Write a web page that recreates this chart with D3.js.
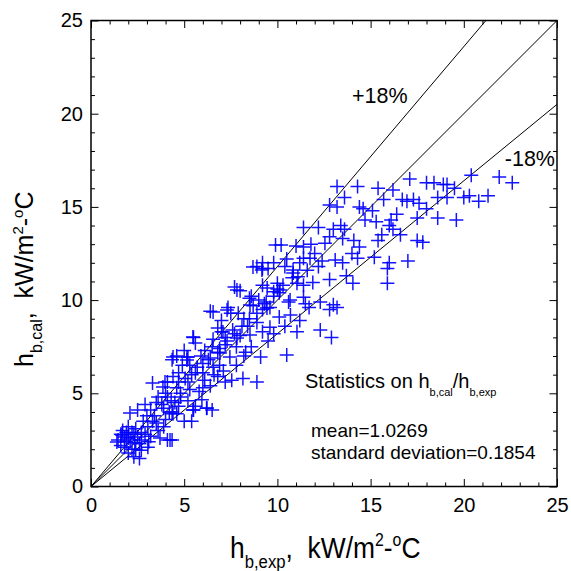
<!DOCTYPE html>
<html>
<head>
<meta charset="utf-8">
<script src="https://cdn.jsdelivr.net/npm/d3@7"></script>
<style>
  html, body { margin: 0; padding: 0; background: #fff; }
  svg { display: block; font-family: "Liberation Sans", Arial, sans-serif; }
</style>
</head>
<body>
<svg id="chart" width="571" height="571"></svg>
<script>
// ---- data ----
const hExp = [
  1.45,1.6,1.8,1.8,2.0,2.2,2.35,2.5,2.7,3.05,3.05,3.6,4.1,4.35,1.7,2.0,2.4,2.9,2.6,1.9,2.2,2.8,2.5,3.2,3.8,4.5,3.4,2.9,3.3,4.0,4.6,5.0,5.4,3.7,2.3,2.6,1.6,2.0,3.9,4.2,
  5.2,5.6,6.5,5.95,6.2,5.5,4.4,4.8,3.3,4.1,5.05,6.1,7.2,7.55,8.15,8.9,4.6,5.3,5.8,4.0,3.6,4.35,5.2,6.3,6.9,4.9,5.7,6.55,5.15,6.1,6.8,7.45,8.3,9.1,10.5,5.6,7.2,5.5,6.55,7.2,7.8,8.6,4.7,5.4,6.0,6.6,7.1,7.8,4.4,6.4,5.0,4.6,
  6.8,7.6,8.4,8.9,9.8,11.05,12.3,9.2,9.6,6.4,7.35,7.5,8.7,9.2,9.6,10.1,10.7,11.5,12.8,13.2,7.7,8.0,10.0,10.1,11.05,11.4,11.4,13.0,8.5,9.0,9.3,8.2,7.0,9.45,9.8,10.0,11.9,12.8,14.05,15.9,10.6,12.3,11.2,8.0,12.9,
  8.9,9.2,9.8,11.2,9.2,9.5,10.85,11.1,12.2,13.1,13.5,14.3,11.4,11.75,11.4,12.55,14.4,9.9,10.2,11.0,11.4,12.2,13.4,13.6,14.7,15.3,16.1,12.8,13.5,14.1,15.4,15.6,16.0,16.2,17.5,17.8,16.0,17.0,15.9,14.0,12.0,10.5,
  13.2,14.3,15.4,16.2,17.1,18.0,18.4,18.9,19.1,20.4,21.9,22.6,20.3,20.8,21.3,15.7,16.7,16.95,17.3,17.6,18.6,19.1,20.0,12.8,13.2,14.4,17.5,18.6,19.6,13.6,15.1,16.4,
  3.97,6.55,7.3,8.53,9.44,5.47,7.08,7.83,8.53,4.4,5.15,6.92,8.69,9.17,10.84,7.83,10.14,10.68,3.86,6.22,5.47,4.35,2.09,4.24,1.66,1.39,
  2.1,2.3,2.7,2.4,1.9,2.7,3.2,3.5,3.0,3.9,4.3,4.8,5.2,5.6,6.0,6.4,6.9,7.3,7.7,8.1,8.5,8.9,9.4,9.8,10.3,10.8,11.6,12.4,3.5,4.1,4.7,5.3,5.9,6.5,7.0,7.9,8.6,9.2,10.4,11.8,13.0,14.6,3.1,4.7,6.0,6.8,8.2,9.5,10.4,11.7,13.7,15.2,16.6,18.0,19.5
];
const hCal = [
  2.5,2.8,2.65,2.1,1.8,2.9,2.35,2.65,1.95,2.1,3.2,3.0,2.5,2.5,3.0,3.2,3.1,2.8,2.3,2.4,2.0,3.5,4.1,4.1,4.4,4.5,3.8,4.4,3.5,3.6,3.9,3.5,3.5,2.6,1.6,1.5,2.2,2.6,3.2,4.0,
  4.6,4.3,4.1,4.65,4.2,4.1,3.9,4.8,5.55,5.6,5.8,5.7,5.6,5.7,5.8,5.6,5.3,5.2,5.1,5.0,4.8,6.8,6.95,6.8,6.5,6.5,6.4,6.4,6.95,7.3,7.2,6.95,7.2,6.95,7.05,7.7,7.6,8.0,7.9,8.0,7.5,7.5,6.1,6.0,6.1,6.0,6.2,6.5,5.9,5.4,7.3,7.0,
  8.5,8.4,8.6,8.8,8.2,8.3,8.4,8.3,8.55,9.4,9.6,9.3,9.7,9.5,9.6,9.1,9.2,9.8,9.5,9.6,10.7,10.5,10.6,10.4,10.9,10.8,10.15,9.75,10.1,10.0,9.8,9.0,8.9,10.65,10.45,10.9,10.95,11.1,10.9,10.9,9.9,9.9,8.9,8.1,8.0,
  11.8,11.7,12.0,12.0,12.0,11.7,11.45,11.25,11.8,12.15,12.0,12.25,12.25,12.25,12.85,13.05,12.85,12.95,12.95,12.9,13.9,13.9,14.0,13.8,14.3,14.2,14.3,13.4,13.3,13.2,13.2,13.5,14.0,13.8,13.2,13.1,12.0,12.1,11.7,12.5,12.5,12.2,
  16.1,16.1,16.0,15.9,16.5,16.3,16.3,16.2,16.2,16.7,16.6,16.3,15.6,15.3,15.6,15.4,15.4,15.3,15.4,15.2,15.5,15.5,15.5,15.1,15.0,15.0,14.4,14.4,14.3,15.5,14.8,14.6,
  5.6,9.36,9.47,9.74,9.58,8.02,8.29,7.97,8.13,6.95,6.79,7.16,11.78,11.62,11.62,10.54,10.54,10.0,5.34,4.21,4.1,4.0,3.94,2.49,2.76,2.39,
  2.5,2.8,2.9,2.0,2.9,2.5,2.7,3.4,3.8,4.2,4.6,5.0,5.6,6.1,6.6,6.9,7.4,7.8,8.2,8.6,9.0,9.3,9.9,10.2,10.8,11.2,11.6,12.1,4.5,4.8,5.6,6.5,7.0,7.5,8.3,9.3,10.2,10.8,11.8,13.0,13.8,14.9,2.4,4.3,5.3,5.9,7.0,7.8,8.6,9.6,11.3,12.3,13.5,14.9,16.0
];
const majorTicks = [0, 5, 10, 15, 20, 25];
const minorTicks = [1,2,3,4,6,7,8,9,11,12,13,14,16,17,18,19,21,22,23,24];
const lineFactors = [1.0, 1.18, 0.82];
const lineLabels = [{text: "+18%", x: 14.0, y: 20.57}, {text: "-18%", x: 22.2, y: 17.18}];
const statsTitle = ["Statistics on h", "b,cal", "/h", "b,exp"];
const statsLines = ["mean=1.0269", "standard deviation=0.1854"];

// ---- layout ----
const svg = d3.select("#chart");
const L = 91, R = 557, T = 20.5, B = 486.5;
const x = d3.scaleLinear().domain([0, 25]).range([L, R]);
const y = d3.scaleLinear().domain([0, 25]).range([B, T]);

svg.append("defs").append("clipPath").attr("id", "plotclip")
  .append("rect").attr("x", L).attr("y", T).attr("width", R - L).attr("height", B - T);

// reference lines
const plot = svg.append("g").attr("clip-path", "url(#plotclip)");
plot.selectAll("line.ref").data(lineFactors).join("line")
  .attr("class", "ref")
  .attr("x1", x(0)).attr("y1", y(0))
  .attr("x2", f => x(Math.min(25, 25 / f)))
  .attr("y2", f => y(Math.min(25, 25 / f) * f))
  .attr("stroke", "#000").attr("stroke-width", 1);

// markers
const pts = hExp.map((v, i) => ({x: v, y: hCal[i]}));
plot.selectAll("path.pt").data(pts).join("path")
  .attr("class", "pt")
  .attr("transform", d => `translate(${x(d.x)},${y(d.y)})`)
  .attr("d", "M-7,0H7M0,-7V7")
  .attr("stroke", "#0000ff").attr("stroke-opacity", 0.92)
  .attr("stroke-width", 1.5).attr("fill", "none");

// axes
function styleAxis(g) {
  g.select(".domain").remove();
  g.selectAll(".tick line").attr("stroke", "#000").attr("stroke-width", 1);
  g.selectAll(".tick text").attr("fill", "#000").attr("font-size", 20)
    .attr("font-family", "'Liberation Sans', Arial, sans-serif");
}
svg.append("g").attr("transform", `translate(0,${B})`)
  .call(d3.axisBottom(x).tickValues(majorTicks).tickSize(-7.5).tickPadding(11).tickFormat(d3.format("d")))
  .call(styleAxis);
svg.append("g").attr("transform", `translate(0,${B})`)
  .call(d3.axisBottom(x).tickValues(minorTicks).tickSize(-4).tickFormat(""))
  .call(styleAxis);
svg.append("g").attr("transform", `translate(${L},0)`)
  .call(d3.axisLeft(y).tickValues(majorTicks).tickSize(-7.5).tickPadding(8).tickFormat(d3.format("d")))
  .call(styleAxis);
svg.append("g").attr("transform", `translate(${L},0)`)
  .call(d3.axisLeft(y).tickValues(minorTicks).tickSize(-4).tickFormat(""))
  .call(styleAxis);
svg.append("g").attr("transform", `translate(0,${T})`)
  .call(d3.axisTop(x).tickValues(majorTicks).tickSize(-7.5).tickFormat(""))
  .call(styleAxis);
svg.append("g").attr("transform", `translate(0,${T})`)
  .call(d3.axisTop(x).tickValues(minorTicks).tickSize(-4).tickFormat(""))
  .call(styleAxis);
svg.append("g").attr("transform", `translate(${R},0)`)
  .call(d3.axisRight(y).tickValues(majorTicks).tickSize(-7.5).tickFormat(""))
  .call(styleAxis);
svg.append("g").attr("transform", `translate(${R},0)`)
  .call(d3.axisRight(y).tickValues(minorTicks).tickSize(-4).tickFormat(""))
  .call(styleAxis);

// frame
svg.append("rect").attr("x", L).attr("y", T).attr("width", R - L).attr("height", B - T)
  .attr("fill", "none").attr("stroke", "#000").attr("stroke-width", 1.5);

// line labels
svg.selectAll("text.lbl").data(lineLabels).join("text")
  .attr("class", "lbl")
  .attr("x", d => x(d.x)).attr("y", d => y(d.y))
  .attr("font-size", 21.5).attr("fill", "#000").text(d => d.text);

// statistics text
const st = svg.append("text").attr("x", 305).attr("y", 388).attr("font-size", 20).attr("fill", "#000");
st.append("tspan").text(statsTitle[0]);
st.append("tspan").attr("dy", 8).attr("font-size", 11).text(statsTitle[1]);
st.append("tspan").attr("dy", -8).text(statsTitle[2]);
st.append("tspan").attr("dy", 8).attr("font-size", 11).text(statsTitle[3]);
svg.selectAll("text.stat").data(statsLines).join("text")
  .attr("class", "stat")
  .attr("x", 311).attr("y", (d, i) => 437 + i * 22)
  .attr("font-size", 19).attr("fill", "#000").text(d => d);

// x axis title
const xt = svg.append("g").attr("transform", "translate(230,558) scale(0.88,1)")
  .append("text").attr("font-size", 30).attr("fill", "#000");
xt.append("tspan").text("h");
xt.append("tspan").attr("dy", 10).attr("font-size", 19).text("b,exp");
xt.append("tspan").attr("dy", -10).text(",\u00a0\u00a0kW/m");
xt.append("tspan").attr("dy", -12).attr("font-size", 18).text("2");
xt.append("tspan").attr("dy", 12).text("-");
xt.append("tspan").attr("dy", -12).attr("font-size", 18).text("o");
xt.append("tspan").attr("dy", 12).text("C");

// y axis title
const yt = svg.append("text").attr("transform", "translate(33,367) rotate(-90)")
  .attr("font-size", 25).attr("fill", "#000");
yt.append("tspan").text("h");
yt.append("tspan").attr("dy", 9).attr("font-size", 16).text("b,cal");
yt.append("tspan").attr("dy", -9).text(",\u00a0\u00a0kW/m");
yt.append("tspan").attr("dy", -10).attr("font-size", 15).text("2");
yt.append("tspan").attr("dy", 10).text("-");
yt.append("tspan").attr("dy", -10).attr("font-size", 15).text("o");
yt.append("tspan").attr("dy", 10).text("C");
</script>
</body>
</html>
